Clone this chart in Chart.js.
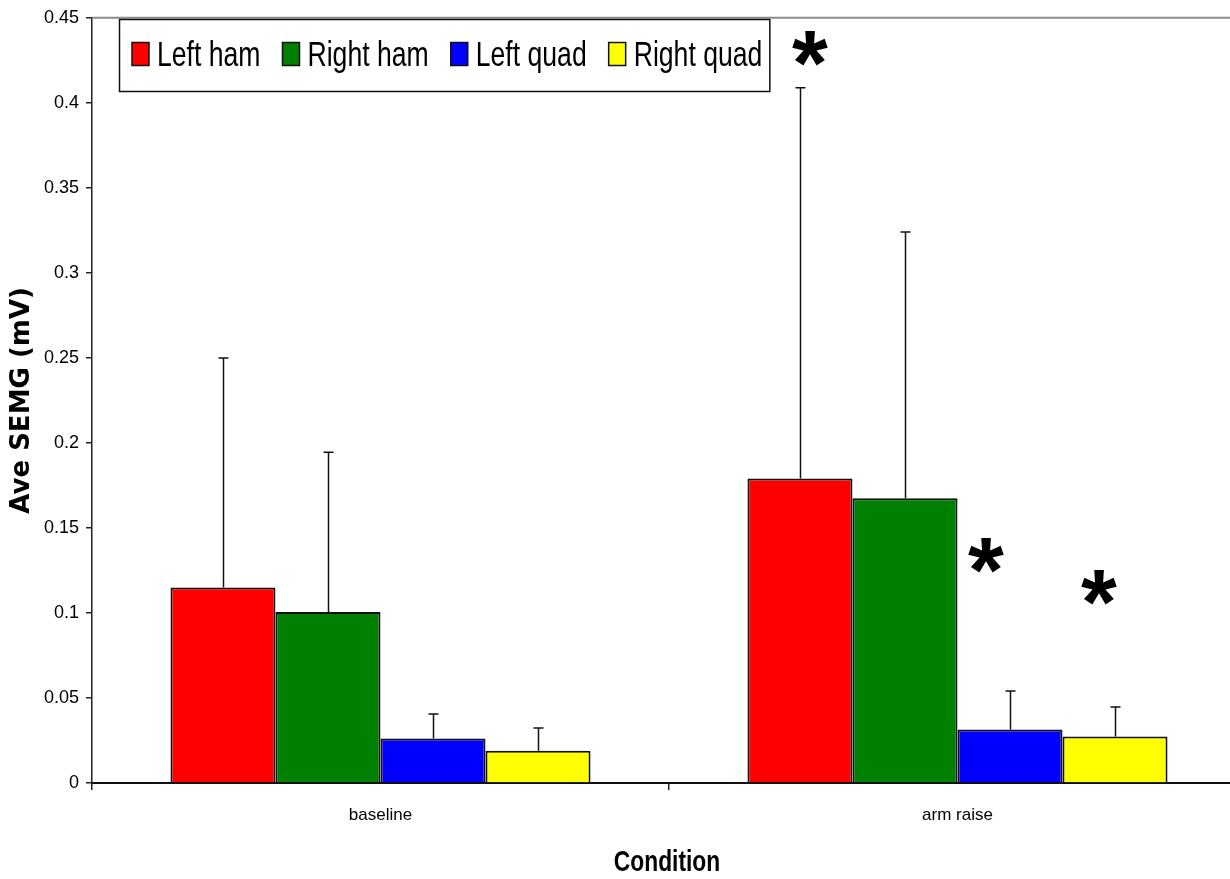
<!DOCTYPE html>
<html>
<head>
<meta charset="utf-8">
<script src="https://cdn.jsdelivr.net/npm/chart.js@4.4.1/dist/chart.umd.min.js"></script>
<style>
  html, body { margin: 0; padding: 0; background: #fff; overflow: hidden; }
  #wrap { width: 1250px; height: 879px; }
</style>
</head>
<body>
<div id="wrap"><canvas id="c" width="1250" height="879"></canvas></div>
<script>
// ---- data ----
const categories = ['baseline', 'arm raise'];
const seriesNames = ['Left ham', 'Right ham', 'Left quad', 'Right quad'];

const leftHam   = [0.115, 0.179];
const rightHam  = [0.1005, 0.1675];
const leftQuad  = [0.0262, 0.0314];
const rightQuad = [0.019, 0.0273];

// standard deviations (upper whiskers)
const leftHamErr   = [0.135, 0.2298];
const rightHamErr  = [0.094, 0.1565];
const leftQuadErr  = [0.0144, 0.0227];
const rightQuadErr = [0.0134, 0.0174];

const yTickLabels = ['0', '0.05', '0.1', '0.15', '0.2', '0.25', '0.3', '0.35', '0.4', '0.45'];
const xTitle = 'Condition';
const yTitle = 'Ave SEMG (mV)';

// significance markers: category index, series index, height (mV)
const starCategory = [1, 1, 1];
const starSeries   = [0, 2, 3];
const starValue    = [0.432, 0.1336, 0.115];

// ---- styles ----
const seriesColors = ['#ff0000', '#008000', '#0000ff', '#ffff00'];
const starNudgeX = [10, -24, -16];
const REGULAR = '"Liberation Sans", Arial, sans-serif';
const CONDENSE = 0.76;   // horizontal squeeze for the narrow legend / axis-title lettering

const seriesValues = [leftHam, rightHam, leftQuad, rightQuad];
const seriesErrors = [leftHamErr, rightHamErr, leftQuadErr, rightQuadErr];

const datasets = seriesNames.map((name, i) => ({
  label: name,
  data: seriesValues[i],
  errors: seriesErrors[i],
  backgroundColor: seriesColors[i],
  borderColor: '#111',
  borderWidth: 2,
  categoryPercentage: 0.728,
  barPercentage: 1.0
}));

function narrowText(ctx, text, x, y, align) {
  const w = ctx.measureText(text).width * CONDENSE;
  const x0 = align === 'center' ? x - w / 2 : x;
  ctx.save();
  ctx.translate(x0, y);
  ctx.scale(CONDENSE, 1);
  ctx.textAlign = 'left';
  ctx.fillText(text, 0, 0);
  ctx.restore();
  return w;
}

// whiskers above each bar
const errorBars = {
  id: 'errorBars',
  afterDatasetsDraw(chart) {
    const ctx = chart.ctx;
    const y = chart.scales.y;
    ctx.save();
    ctx.strokeStyle = '#111';
    ctx.lineWidth = 1.5;
    chart.data.datasets.forEach((ds, i) => {
      const meta = chart.getDatasetMeta(i);
      meta.data.forEach((bar, j) => {
        const top = y.getPixelForValue(ds.data[j] + ds.errors[j]);
        const x = Math.round(bar.x) + 0.5;
        ctx.beginPath();
        ctx.moveTo(x, bar.y);
        ctx.lineTo(x, top);
        ctx.moveTo(x - 5, top);
        ctx.lineTo(x + 5, top);
        ctx.stroke();
      });
    });
    ctx.restore();
  }
};

// thin frame line along the top of the plot
const topFrame = {
  id: 'topFrame',
  beforeDatasetsDraw(chart) {
    const { ctx, chartArea } = chart;
    ctx.save();
    ctx.strokeStyle = '#8c8c8c';
    ctx.lineWidth = 2;
    ctx.beginPath();
    ctx.moveTo(chartArea.left, chartArea.top);
    ctx.lineTo(chartArea.right, chartArea.top);
    ctx.stroke();
    ctx.restore();
  }
};

// asterisks marking significant differences
const stars = {
  id: 'stars',
  afterDatasetsDraw(chart) {
    const ctx = chart.ctx;
    const y = chart.scales.y;
    ctx.save();
    ctx.fillStyle = '#000';
    ctx.font = 'bold 92px ' + REGULAR;
    ctx.textAlign = 'center';
    ctx.textBaseline = 'alphabetic';
    const m = ctx.measureText('*');
    const mid = (m.actualBoundingBoxAscent - m.actualBoundingBoxDescent) / 2;
    starValue.forEach((v, k) => {
      const bar = chart.getDatasetMeta(starSeries[k]).data[starCategory[k]];
      const x = bar.x + starNudgeX[k];
      ctx.fillText('*', x, y.getPixelForValue(v) + mid);
    });
    ctx.restore();
  }
};

// x-axis title in condensed bold lettering
const xAxisTitle = {
  id: 'xAxisTitle',
  afterDraw(chart) {
    const { ctx, chartArea } = chart;
    ctx.save();
    ctx.fillStyle = '#000';
    ctx.font = 'bold 30px ' + REGULAR;
    ctx.textBaseline = 'middle';
    narrowText(ctx, xTitle, (chartArea.left + chartArea.right) / 2 - 2, 863, 'center');
    ctx.restore();
  }
};

// boxed legend inside the plot area
const boxLegend = {
  id: 'boxLegend',
  afterDraw(chart) {
    const ctx = chart.ctx;
    const left = 119, top = 19, height = 72;
    const sw = 17, sh = 23, gapText = 8, gapItem = 22;
    ctx.save();
    ctx.font = '35px ' + REGULAR;
    let x = left + 13;
    const items = chart.data.datasets.map(ds => {
      const w = ctx.measureText(ds.label).width * CONDENSE;
      const it = { x, w, label: ds.label, color: ds.backgroundColor };
      x += sw + gapText + w + gapItem;
      return it;
    });
    const right = x - gapItem + 7;
    ctx.fillStyle = '#fff';
    ctx.fillRect(left, top, right - left, height);
    ctx.strokeStyle = '#111';
    ctx.lineWidth = 1.5;
    ctx.strokeRect(left + 0.5, top + 0.5, right - left, height);
    const cy = top + height / 2;
    items.forEach(it => {
      ctx.fillStyle = it.color;
      ctx.fillRect(it.x, cy - sh / 2 - 1, sw, sh);
      ctx.lineWidth = 1.5;
      ctx.strokeStyle = '#111';
      ctx.strokeRect(it.x, cy - sh / 2 - 1, sw, sh);
      ctx.fillStyle = '#000';
      ctx.textBaseline = 'middle';
      narrowText(ctx, it.label, it.x + sw + gapText, cy + 1, 'left');
    });
    ctx.restore();
  }
};

new Chart(document.getElementById('c'), {
  type: 'bar',
  data: { labels: categories, datasets },
  plugins: [topFrame, errorBars, stars, boxLegend, xAxisTitle],
  options: {
    responsive: false,
    animation: false,
    layout: { padding: { top: 15, right: 4, left: 0, bottom: 0 } },
    plugins: { legend: { display: false }, tooltip: { enabled: false } },
    scales: {
      x: {
        grid: { display: true, drawOnChartArea: false, offset: true, tickLength: 7, color: '#222', lineWidth: 1.5 },
        border: { color: '#111', width: 2 },
        ticks: { font: { family: REGULAR, size: 17 }, color: '#000', padding: 15 },
        title: { display: false },
        afterFit: s => { s.height = 96; }
      },
      y: {
        min: 0, max: 0.45,
        ticks: { stepSize: 0.05, callback: (v, i) => yTickLabels[i],
                 font: { family: REGULAR, size: 18 }, color: '#000', padding: 7 },
        grid: { drawOnChartArea: false, tickLength: 6, color: '#222', lineWidth: 1.5 },
        border: { color: '#222', width: 1.5 },
        title: { display: true, text: yTitle, color: '#000',
                 font: { family: '"DejaVu Sans", sans-serif', size: 26, weight: 'bold' }, padding: { top: 7 } },
        afterFit: s => { s.width = 92; }
      }
    }
  }
});
</script>
</body>
</html>
